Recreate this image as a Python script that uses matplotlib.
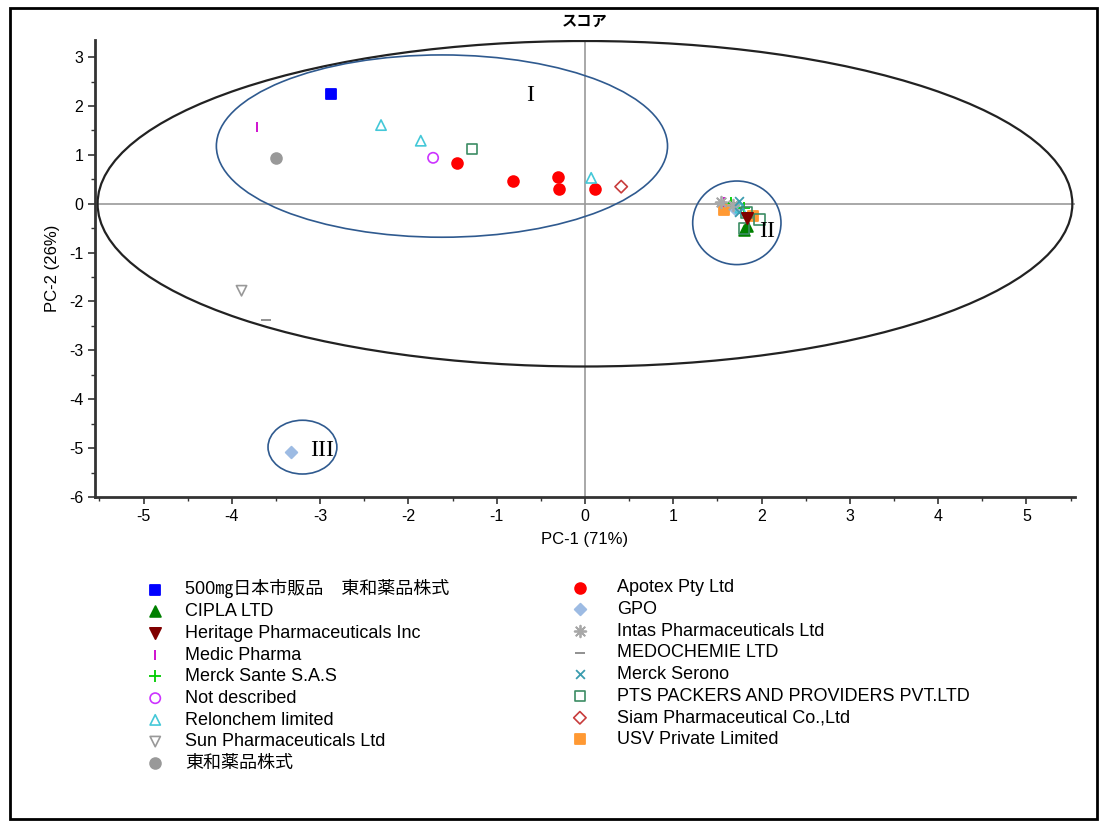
import matplotlib
matplotlib.use("Agg")
import matplotlib.pyplot as plt  # noqa: E402
from matplotlib.patches import Ellipse, Rectangle  # noqa: E402
from matplotlib.ticker import MultipleLocator  # noqa: E402

plt.rcParams["font.family"] = ["Liberation Sans", "Noto Sans CJK JP", "DejaVu Sans"]
plt.rcParams["axes.unicode_minus"] = False

# score values (PC-1, PC-2) per supplier
names = [
    "500㎎日本市販品　東和薬品株式", "CIPLA LTD", "Heritage Pharmaceuticals Inc",
    "Medic Pharma", "Merck Sante S.A.S", "Not described", "Relonchem limited",
    "Sun Pharmaceuticals Ltd", "東和薬品株式",
    "Apotex Pty Ltd", "GPO", "Intas Pharmaceuticals Ltd", "MEDOCHEMIE LTD",
    "Merck Serono", "PTS PACKERS AND PROVIDERS PVT.LTD", "Siam Pharmaceutical Co.,Ltd",
    "USV Private Limited",
]
pc1 = [
    [-2.88],
    [1.80, 1.84],
    [1.83],
    [-3.71, 1.58],
    [1.65, 1.80],
    [-1.72],
    [-2.31, -1.86, 0.07, 1.76],
    [-3.89],
    [-3.50],
    [-1.45, -0.81, -0.31, -0.29, 0.11],
    [-3.33, 1.70],
    [1.54, 1.68],
    [-3.61],
    [1.74, 1.74],
    [-1.28, 1.98, 1.83, 1.80],
    [0.41],
    [1.58, 1.90],
]
pc2 = [
    [2.24],
    [-0.53, -0.46],
    [-0.29],
    [1.57, 0.03],
    [0.02, -0.08],
    [0.94],
    [1.61, 1.29, 0.53, -0.08],
    [-1.78],
    [0.94],
    [0.84, 0.47, 0.55, 0.31, 0.31],
    [-5.08, -0.10],
    [0.04, -0.02],
    [-2.37],
    [0.05, -0.17],
    [1.12, -0.33, -0.18, -0.50],
    [0.35],
    [-0.12, -0.26],
]

styles = [
    dict(marker="s", color="#0000FF", filled=True, size=60),
    dict(marker="^", color="#008000", filled=True, size=60),
    dict(marker="v", color="#800000", filled=True, size=65),
    dict(marker="|", color="#CC00CC", filled=True, size=60),
    dict(marker="+", color="#00CC00", filled=True, size=70),
    dict(marker="o", color="#CC33FF", filled=False, size=55),
    dict(marker="^", color="#44C8D8", filled=False, size=55),
    dict(marker="v", color="#999999", filled=False, size=55),
    dict(marker="o", color="#999999", filled=True, size=60),
    dict(marker="o", color="#FF0000", filled=True, size=60),
    dict(marker="D", color="#9DBBE3", filled=True, size=35),
    dict(marker=(8, 2, 0), color="#A8A8A8", filled=True, size=70),
    dict(marker="_", color="#888888", filled=True, size=60),
    dict(marker="x", color="#3B9CAF", filled=True, size=40),
    dict(marker="s", color="#3C8C64", filled=False, size=60),
    dict(marker="D", color="#C83C3C", filled=False, size=40),
    dict(marker="s", color="#FF9933", filled=True, size=60),
]
# drawing order inside the crowded cluster
layers = [3, 3, 6, 4, 4, 3, 4, 3, 3, 3, 3, 4, 3, 5, 4, 3, 3]

fig = plt.figure(figsize=(11.03, 8.22), dpi=100)
ax = fig.add_axes([0.0861, 0.3954, 0.8885, 0.5559])

ax.axhline(0, color="#999999", lw=1.2, zorder=1)
ax.axvline(0, color="#999999", lw=1.2, zorder=1)
ax.add_patch(Ellipse((0, 0), 11.04, 6.66, fill=False, ec="#222222", lw=1.6, zorder=1))

handles = []
for name, xs, ys, st, z in zip(names, pc1, pc2, styles, layers):
    if st["filled"]:
        h = ax.scatter(xs, ys, marker=st["marker"], s=st["size"], color=st["color"],
                       linewidths=1.3, zorder=z, label=name)
    else:
        h = ax.scatter(xs, ys, marker=st["marker"], s=st["size"], facecolors="none",
                       edgecolors=st["color"], linewidths=1.2, zorder=z, label=name)
    handles.append(h)

# hand-drawn group annotations
note_col = "#2F5A8F"
ax.add_patch(Ellipse((-1.62, 1.18), 5.11, 3.73, fill=False, ec=note_col, lw=1.2, zorder=7))
ax.add_patch(Ellipse((1.72, -0.39), 1.0, 1.71, fill=False, ec=note_col, lw=1.2, zorder=7))
ax.add_patch(Ellipse((-3.20, -4.98), 0.78, 1.10, fill=False, ec=note_col, lw=1.2, zorder=7))
for txt, x, y in [("I", -0.62, 2.22), ("II", 2.06, -0.57), ("III", -2.98, -5.04)]:
    ax.text(x, y, txt, family="Liberation Serif", fontsize=17, ha="center", va="center", zorder=8)

ax.set_xlim(-5.55, 5.55)
ax.set_ylim(-6, 3.35)
ax.xaxis.set_major_locator(MultipleLocator(1))
ax.xaxis.set_minor_locator(MultipleLocator(0.5))
ax.yaxis.set_major_locator(MultipleLocator(1))
ax.yaxis.set_minor_locator(MultipleLocator(0.5))
ax.tick_params(which="major", length=5, width=1.2, color="#333333", labelsize=11.5, direction="out")
ax.tick_params(which="minor", length=3, width=1.0, color="#333333")
for side in ("top", "right"):
    ax.spines[side].set_visible(False)
for side in ("left", "bottom"):
    ax.spines[side].set_linewidth(2)
    ax.spines[side].set_color("#333333")

ax.set_xlabel("PC-1 (71%)", fontsize=12, labelpad=6)
ax.set_ylabel("PC-2 (26%)", fontsize=12, labelpad=6)
ax.set_title("スコア", fontsize=11, fontweight="bold", family=["Noto Sans CJK JP"], pad=10)

leg_kw = dict(frameon=False, fontsize=13, labelspacing=0.26,
              handlelength=1.0, borderaxespad=0, scatterpoints=1)
fig.legend(handles=handles[:9], loc="upper left", bbox_to_anchor=(0.126, 0.304),
           handletextpad=1.15, **leg_kw)
fig.legend(handles=handles[9:], loc="upper left", bbox_to_anchor=(0.511, 0.304),
           handletextpad=1.55, **leg_kw)

fig.add_artist(Rectangle((0.009, 0.004), 0.986, 0.986, transform=fig.transFigure,
                         fill=False, ec="black", lw=2))

fig.savefig("out.png", dpi=100)
